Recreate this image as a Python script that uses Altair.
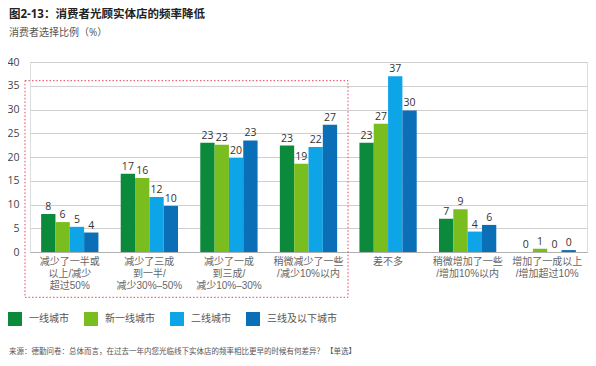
import altair as alt
import pandas as pd

categories = [
    "减少了一半或\n以上/减少\n超过50%",
    "减少了三成\n到一半/\n减少30%–50%",
    "减少了一成\n到三成/\n减少10%–30%",
    "稍微减少了一些\n/减少10%以内",
    "差不多",
    "稍微增加了一些\n/增加10%以内",
    "增加了一成以上\n/增加超过10%",
]
series = ["一线城市", "新一线城市", "二线城市", "三线及以下城市"]
colors = ["#0b8a3b", "#7abd1e", "#0ea5e8", "#0b6fb8"]

tier1 = [8.0, 16.5, 23.0, 22.4, 23.0, 7.0, 0.0]
new_tier1 = [6.3, 15.6, 22.6, 18.6, 27.0, 9.0, 0.7]
tier2 = [5.3, 11.6, 19.8, 22.1, 37.0, 4.3, 0.0]
tier3 = [4.1, 9.7, 23.5, 26.8, 29.8, 5.7, 0.4]

tier1_lbl = [8, 17, 23, 23, 23, 7, 0]
new_tier1_lbl = [6, 16, 23, 19, 27, 9, 1]
tier2_lbl = [5, 12, 20, 22, 37, 4, 0]
tier3_lbl = [4, 10, 23, 27, 30, 6, 0]

y_ticks = [0, 5, 10, 15, 20, 25, 30, 35, 40]

title_text = "图2-13：消费者光顾实体店的频率降低"
subtitle_text = "消费者选择比例（%）"
source_text = "来源：德勤问卷：总体而言，在过去一年内您光临线下实体店的频率相比更早的时候有何差异？ 【单选】"

FONT = "Open Sans, Noto Sans CJK SC"
LABEL_FONT = "Liberation Sans, Noto Sans CJK SC"

rows = []
for s, vals, lbls in zip(series, [tier1, new_tier1, tier2, tier3],
                         [tier1_lbl, new_tier1_lbl, tier2_lbl, tier3_lbl]):
    for c, v, l in zip(categories, vals, lbls):
        rows.append({"category": c, "series": s, "value": v, "label": str(l)})
df = pd.DataFrame(rows)

x_enc = alt.X(
    "category:N",
    sort=categories,
    scale=alt.Scale(paddingInner=0.28, paddingOuter=0.14),
    axis=alt.Axis(
        title=None,
        labelAngle=0,
        labelExpr="split(datum.label, '\\n')",
        labelFontSize=10,
        labelColor="#666666",
        labelLineHeight=12,
        labelPadding=4,
        ticks=False,
        domainColor="#b0b0b0",
        labelFont=LABEL_FONT,
        labelBaseline="top",
    ),
)
xoff = alt.XOffset("series:N", sort=series, scale=alt.Scale(paddingInner=0))
y_enc = alt.Y(
    "value:Q",
    scale=alt.Scale(domain=[0, 40], nice=False),
    axis=alt.Axis(
        title=None,
        values=y_ticks,
        ticks=False,
        domain=False,
        gridColor="#cfcfcf",
        gridWidth=1,
        labelFontSize=10.5,
        labelColor="#444444",
        labelPadding=11,
        labelFont=FONT,
        labelOverlap=False,
        labelBound=False,
    ),
)

bars = alt.Chart(df).mark_bar().encode(
    x=x_enc,
    xOffset=xoff,
    y=y_enc,
    color=alt.Color(
        "series:N",
        sort=series,
        scale=alt.Scale(domain=series, range=colors),
        legend=alt.Legend(
            title=None,
            orient="none",
            legendX=-22,
            legendY=250,
            direction="horizontal",
            columns=4,
            symbolType="square",
            symbolSize=196,
            symbolStrokeWidth=0,
            labelFontSize=10,
            labelColor="#555555",
            labelFont=FONT,
            labelOffset=7,
            columnPadding=15,
        ),
    ),
)

texts = alt.Chart(df).mark_text(
    baseline="bottom", dy=-2, fontSize=10.5, color="#333333", font=FONT
).encode(
    x=x_enc,
    xOffset=xoff,
    y=y_enc,
    text="label:N",
)

box = alt.Chart(pd.DataFrame({"a": [0]})).mark_rect(
    filled=False, stroke="#e8415b", strokeWidth=1, strokeDash=[1.5, 2]
).encode(
    x=alt.value(-5), x2=alt.value(318), y=alt.value(18.7), y2=alt.value(235.3)
)

title_mark = alt.Chart(pd.DataFrame({"t": [title_text]})).mark_text(
    align="left", baseline="middle", fontSize=11.5, fontWeight="bold",
    color="#222222", font=FONT
).encode(x=alt.value(-21), y=alt.value(-47.2), text="t:N")
subtitle_mark = alt.Chart(pd.DataFrame({"t": [subtitle_text]})).mark_text(
    align="left", baseline="middle", fontSize=10, color="#555555", font=FONT
).encode(x=alt.value(-21), y=alt.value(-28.7), text="t:N")
source_mark = alt.Chart(pd.DataFrame({"t": [source_text]})).mark_text(
    align="left", baseline="middle", fontSize=7.5, color="#555555", font=FONT
).encode(x=alt.value(-21), y=alt.value(289.7), text="t:N")

chart = alt.layer(bars, texts, box, title_mark, subtitle_mark, source_mark).properties(
    width=557,
    height=190,
    autosize=alt.AutoSizeParams(type="none"),
    padding={"left": 22, "top": 54, "right": 1, "bottom": 108},
).configure_view(stroke=None).configure(font=FONT)

chart.save("out.html", embed_options={"renderer": "svg", "actions": False})
